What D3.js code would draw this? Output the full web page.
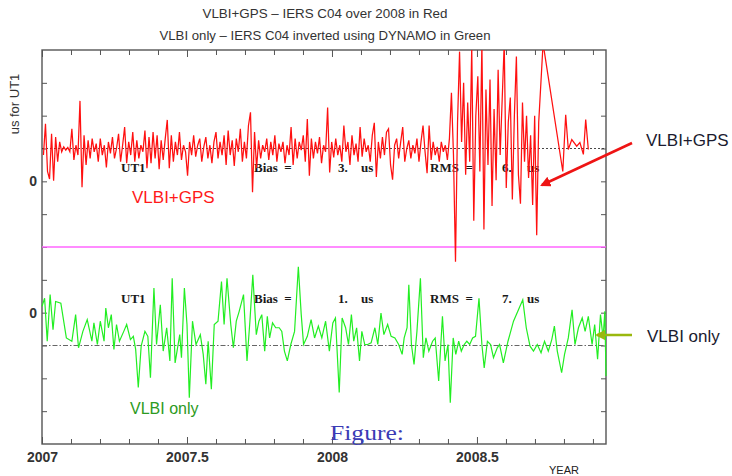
<!DOCTYPE html>
<html>
<head>
<meta charset="utf-8">
<script src="https://d3js.org/d3.v7.min.js"></script>
<style>
  html, body { margin: 0; padding: 0; background: #fff; }
  svg { display: block; }
  .axis text { font-family: "Liberation Sans", Arial, sans-serif; fill: #222; }
  .axis line { stroke: #555; }
</style>
</head>
<body>
<svg id="chart" width="732" height="476"></svg>
<script>
// ---- data ----
// VLBI+GPS - C04, sampled every RED_DT years from RED_T0 (us)
const RED_T0 = 2007.005, RED_DT = 0.007;
const redValues = [
  8, 17.5, 3, 0.7, 14.5, 0.2, 13.5, 6, 12, 9,
  10.5, 9.5, 10.3, 9, 16, 6.5, 11, 8, 24.5, -1.8,
  14, 5, 12.5, 7, 13, 9, 11.5, 6, 13, 8,
  11, 4.2, 12, 8.5, 13.5, 7, 10, 14.5, 6, 11,
  16.5, 5.5, 12, 8, 15, 6, 12.5, 7, 11, 9,
  15.5, 4, 13.5, 5.5, 15, 7, 14, 3.7, 12.5, 6.5,
  13, 18.7, 4, 14, 6, 12, 8, 15, 6.5, 11,
  9, 1.7, 12, 8, 14, 7.5, 11, 13, 6, 10.5,
  13.5, 7, 11, 5.5, 12, 15, 7, 12, 8, 14,
  5, 15.5, 8, 12.5, 4.7, 13, 9, 16, 6, 12,
  7, 17, 21, -3.3, 15, 4, 12.5, 7, 11, 9,
  13, 6.5, 12, 8, 14, 6, 11.5, 9, 12, 5.5,
  11, 8, 16.5, 5, 13, 7, 12, 9.5, 14, 6,
  19, 1.7, 13, 7, 12, 8.5, 13.5, 5.5, 11, 9,
  22.5, 2.7, 12, 7.3, 13, 8, 11, 6, 17, 9,
  12, 5, 14, 8, 11.5, 6, 16.5, 7.5, 13, 9,
  11, 6, 14, 17.8, 1.3, 12, 7, 13.5, 8, 15,
  16, 5, 0.5, 11, 13, 7, 12, 16.5, 6, 10,
  12.5, 7, 11, 8.5, 13, 6, 12, 17, 9, 2.5,
  17, 6.5, 12, 8, 10.5, 6, 12, 9, 11, 6.5,
  13, 27, 8, -24.5, 18, 39.5, 12, 30, 2, 24,
  6, 41, -12, 20, 32, 3, 42, -14.7, 28, 5,
  31, -7.5, 22, 0.3, 34, 8, 25, 42, -2, 18,
  25.5, -5.5, 20, 38, 2, -6.8, 24, 6, 20, 1,
  14, -7.2, 20, -16.4, 18
];
// sparse tail after the dense part: [year, us]
const redTail = [
  [2008.728, 42], [2008.796, 3.0], [2008.806, 20.3], [2008.815, 9.7],
  [2008.827, 12.7], [2008.844, 10.7], [2008.855, 11.8], [2008.867, 8.2],
  [2008.875, 18.8], [2008.884, 9.7]
];

// VLBI only - C04 via DYNAMO (us)
const greenYears = [
  2007.000, 2007.009, 2007.018, 2007.028, 2007.038, 2007.047, 2007.065, 2007.084, 2007.103, 2007.116,
  2007.126, 2007.141, 2007.156, 2007.172, 2007.179, 2007.191, 2007.201, 2007.214, 2007.220, 2007.229,
  2007.239, 2007.248, 2007.257, 2007.267, 2007.282, 2007.292, 2007.305, 2007.315, 2007.323, 2007.332,
  2007.342, 2007.355, 2007.365, 2007.374, 2007.386, 2007.395, 2007.408, 2007.418, 2007.430, 2007.441,
  2007.449, 2007.459, 2007.475, 2007.481, 2007.491, 2007.500, 2007.508, 2007.519, 2007.531, 2007.546,
  2007.556, 2007.565, 2007.573, 2007.584, 2007.594, 2007.607, 2007.619, 2007.628, 2007.638, 2007.651,
  2007.660, 2007.670, 2007.680, 2007.695, 2007.707, 2007.717, 2007.727, 2007.739, 2007.748, 2007.758,
  2007.768, 2007.777, 2007.785, 2007.795, 2007.806, 2007.818, 2007.827, 2007.836, 2007.846, 2007.858,
  2007.871, 2007.884, 2007.894, 2007.902, 2007.915, 2007.928, 2007.940, 2007.953, 2007.965, 2007.978,
  2007.991, 2008.003, 2008.012, 2008.025, 2008.035, 2008.047, 2008.057, 2008.067, 2008.075, 2008.085,
  2008.095, 2008.103, 2008.113, 2008.123, 2008.135, 2008.148, 2008.158, 2008.169, 2008.179, 2008.192,
  2008.204, 2008.217, 2008.230, 2008.242, 2008.249, 2008.259, 2008.265, 2008.274, 2008.283, 2008.293,
  2008.305, 2008.315, 2008.324, 2008.334, 2008.347, 2008.356, 2008.368, 2008.381, 2008.390, 2008.400,
  2008.408, 2008.418, 2008.427, 2008.437, 2008.446, 2008.456, 2008.465, 2008.475, 2008.485, 2008.495,
  2008.507, 2008.517, 2008.525, 2008.536, 2008.547, 2008.557, 2008.570, 2008.578, 2008.591, 2008.607,
  2008.626, 2008.658, 2008.670, 2008.683, 2008.695, 2008.708, 2008.721, 2008.733, 2008.746, 2008.758,
  2008.767, 2008.777, 2008.792, 2008.802, 2008.815, 2008.828, 2008.838, 2008.850, 2008.863, 2008.873,
  2008.884, 2008.897, 2008.906, 2008.916, 2008.926, 2008.935, 2008.941, 2008.945
];
const greenValues = [
  1.9, 4.4, -8.7, 5.5, -5.2, 3.4, 2.9, -7.7, -8.7, -0.6,
  -10.7, -5.7, -2.1, -8.7, -3.1, -9.7, -2.6, -8.7, 1.4, -4.6,
  -0.6, -11.2, -3.6, -8.7, -5.7, -3.6, -8.2, -7.2, -11.2, -22.8,
  -10.2, -5.7, -7.2, -19.8, 7.5, -9.7, 2.4, -11.7, -4.6, -14.7,
  10.5, -15.3, -6.7, -13.7, 7.5, -3.6, -25.9, -2.6, -9.7, -6.7,
  -12.7, -21.8, -8.7, -23.3, -3.6, -2.6, 9.5, -3.6, 10.5, -3.6,
  -10.7, -2.6, 0.4, 5.5, -14.7, -2.6, 11.5, -6.7, -2.6, -0.6,
  -11.7, -1.1, -7.7, -3.1, -4.6, -4.6, -5.7, -11.7, -14.7, -9.7,
  -5.7, 14.0, -0.6, -9.7, -7.2, -2.1, -7.7, -4.1, -7.7, -2.6,
  -11.7, -3.1, -1.6, -24.3, -1.6, -4.6, -9.7, -0.6, -8.7, -4.6,
  -14.7, -5.7, -9.7, -9.7, -9.2, -4.6, -9.7, -0.1, -6.7, -3.6,
  -7.2, -7.7, -9.7, -12.7, -7.7, -4.6, 8.5, -9.7, -15.8, -5.7,
  10.5, -13.7, -7.7, -11.7, -8.7, -7.7, -20.8, -1.1, -14.7, -9.7,
  -27.4, -7.7, -12.7, -8.7, -11.7, -9.7, -8.7, -9.7, -7.7, -7.2,
  4.4, -9.7, -16.8, -8.7, -9.7, -13.7, -10.7, -9.7, -15.3, -8.7,
  -2.6, 3.9, -4.6, -10.2, -11.7, -9.7, -12.2, -8.7, -11.7, -8.2,
  -4.1, -11.7, -18.3, -12.7, -7.7, 0.9, -9.7, -4.6, -1.6, -5.7,
  -1.1, -9.7, -3.6, -14.2, -0.6, -7.7, 0.4, -19.3
];

const redMean = 10, greenMean = -10;
const titles = [
  'VLBI+GPS \u2013 IERS C04 over 2008 in Red',
  'VLBI only \u2013 IERS C04 inverted using DYNAMO in Green'
];
const stats = [
  { name: 'UT1', bias: '3.', rms: '6.' },
  { name: 'UT1', bias: '1.', rms: '7.' }
];
const xLabelYears = [2007, 2007.5, 2008, 2008.5];

// ---- scales ----
const pLeft = 42, pRight = 606, pTop = 50, pMid = 247, pBottom = 444;
const x = d3.scaleLinear().domain([2007, 2008.945]).range([pLeft, pRight]);
const yUp = d3.scaleLinear().domain([-20, 40]).range([pMid, pTop]);
const yLo = d3.scaleLinear().domain([-40, 20]).range([pBottom, pMid]);

const svg = d3.select('#chart');

// titles
svg.selectAll('.title')
  .data(titles)
  .enter()
  .append('text')
  .classed('title', true)
  .attr('x', 325)
  .attr('y', (d, i) => 18 + i * 22)
  .attr('text-anchor', 'middle')
  .attr('textLength', (d, i) => i === 0 ? 245 : 331)
  .attr('lengthAdjust', 'spacingAndGlyphs')
  .style('font-family', '"Liberation Sans", Arial, sans-serif')
  .style('font-size', '13px')
  .style('fill', '#333')
  .text(d => d);

// y title
svg.append('text')
  .attr('transform', 'translate(19,104) rotate(-90)')
  .attr('text-anchor', 'middle')
  .style('font-family', '"Liberation Sans", Arial, sans-serif')
  .style('font-size', '13px')
  .style('fill', '#333')
  .text('us for UT1');

// axes (ticks point inward)
const xTicks = d3.range(0, 20).map(i => 2007 + i / 10);
const isMajor = d => Math.abs(d * 2 - Math.round(d * 2)) < 1e-6;
const xFmt = d => xLabelYears.some(v => Math.abs(v - d) < 1e-6) ? String(+d.toFixed(1)) : '';

const gxb = svg.append('g').attr('class', 'axis')
  .attr('transform', `translate(0,${pBottom})`)
  .call(d3.axisBottom(x).tickValues(xTicks).tickSizeInner(-5).tickSizeOuter(0).tickPadding(8).tickFormat(xFmt));
gxb.selectAll('.tick line').attr('y2', d => isMajor(d) ? -7 : -5);
gxb.selectAll('text').style('font-size', '14px').style('font-weight', 'bold').style('fill', '#333');

const gxt = svg.append('g').attr('class', 'axis')
  .attr('transform', `translate(0,${pTop})`)
  .call(d3.axisTop(x).tickValues(xTicks).tickSizeInner(-5).tickSizeOuter(0).tickFormat(''));
gxt.selectAll('.tick line').attr('y2', d => isMajor(d) ? 7 : 5);

const upTicks = [-10, 0, 10, 20, 30];
const loTicks = [-30, -20, -10, 0, 10, 20];
[[yUp, upTicks], [yLo, loTicks]].forEach(([sc, tv]) => {
  const gl = svg.append('g').attr('class', 'axis')
    .attr('transform', `translate(${pLeft},0)`)
    .call(d3.axisLeft(sc).tickValues(tv).tickSizeInner(-5).tickSizeOuter(0).tickPadding(5)
      .tickFormat(d => d === 0 ? '0' : ''));
  gl.selectAll('text').style('font-size', '14px').style('font-weight', 'bold').style('fill', '#333');
  svg.append('g').attr('class', 'axis')
    .attr('transform', `translate(${pRight},0)`)
    .call(d3.axisRight(sc).tickValues(tv).tickSizeInner(-5).tickSizeOuter(0).tickFormat(''));
});
svg.selectAll('.axis .domain').remove();

// frame
svg.append('rect')
  .attr('x', pLeft).attr('y', pTop)
  .attr('width', pRight - pLeft).attr('height', pBottom - pTop)
  .style('fill', 'none').style('stroke', '#555').style('stroke-width', 1.4);

svg.append('text')
  .attr('x', 564).attr('y', 474)
  .attr('text-anchor', 'middle')
  .style('font-family', '"Liberation Sans", Arial, sans-serif')
  .style('font-size', '11px').style('fill', '#222')
  .text('YEAR');

// reference lines
svg.append('line')
  .attr('x1', pLeft).attr('x2', pRight)
  .attr('y1', yUp(redMean)).attr('y2', yUp(redMean))
  .style('stroke', '#333').style('stroke-width', 0.9).style('stroke-dasharray', '2,2');
svg.append('line')
  .attr('x1', pLeft).attr('x2', pRight)
  .attr('y1', yLo(greenMean)).attr('y2', yLo(greenMean))
  .style('stroke', '#666').style('stroke-width', 1.2).style('stroke-dasharray', '5,2,1.5,2');
svg.append('line')
  .attr('x1', pLeft).attr('x2', pRight)
  .attr('y1', pMid).attr('y2', pMid)
  .style('stroke', '#ff66ff').style('stroke-width', 1.6);

// stats text
const statFont = sel => sel
  .style('font-family', '"Liberation Serif", "Times New Roman", serif')
  .style('font-weight', 'bold').style('font-size', '13px').style('fill', '#1a1a1a');
stats.forEach((s, i) => {
  const yy = i === 0 ? 172 : 303;
  const g = svg.append('g').call(statFont);
  g.append('text').attr('x', 121).attr('y', yy).text(s.name);
  g.append('text').attr('x', 254).attr('y', yy).attr('xml:space', 'preserve').text('Bias  =');
  g.append('text').attr('x', 338).attr('y', yy).text(s.bias);
  g.append('text').attr('x', 361).attr('y', yy).text('us');
  g.append('text').attr('x', 430).attr('y', yy).attr('xml:space', 'preserve').text('RMS  =');
  g.append('text').attr('x', 502).attr('y', yy).text(s.rms);
  g.append('text').attr('x', 527).attr('y', yy).text('us');
});

// series
svg.append('clipPath').attr('id', 'clipRed')
  .append('rect').attr('x', pLeft).attr('y', pTop).attr('width', pRight - pLeft).attr('height', 230);

const redData = redValues.map((v, i) => [RED_T0 + i * RED_DT, v]).concat(redTail);
const greenData = d3.zip(greenYears, greenValues);

svg.append('path')
  .datum(greenData)
  .attr('d', d3.line().x(d => x(d[0])).y(d => yLo(d[1])))
  .style('fill', 'none').style('stroke', '#22ee22').style('stroke-width', 1.2);

svg.append('path')
  .datum(redData)
  .attr('clip-path', 'url(#clipRed)')
  .attr('d', d3.line().x(d => x(d[0])).y(d => yUp(d[1])))
  .style('fill', 'none').style('stroke', '#ff1010').style('stroke-width', 1.25);

// labels inside the plot
svg.append('text')
  .attr('x', 132).attr('y', 203)
  .style('font-family', '"Liberation Sans", Arial, sans-serif')
  .style('font-size', '17px').style('fill', '#ff1a1a')
  .text('VLBI+GPS');
svg.append('text')
  .attr('x', 130).attr('y', 414)
  .style('font-family', '"Liberation Sans", Arial, sans-serif')
  .style('font-size', '16px').style('fill', '#2c9a22')
  .text('VLBI only');

svg.append('text')
  .attr('x', 330).attr('y', 440)
  .attr('textLength', 74).attr('lengthAdjust', 'spacingAndGlyphs')
  .style('font-family', '"Liberation Serif", "Times New Roman", serif')
  .style('font-size', '22px').style('fill', '#3b3bb5')
  .text('Figure:');

// annotations with arrows
const defs = svg.append('defs');
[['headRed', '#ee1414'], ['headGreen', '#9ab80e']].forEach(([id, c]) => {
  defs.append('marker')
    .attr('id', id).attr('viewBox', '0 0 10 10')
    .attr('refX', 8).attr('refY', 5)
    .attr('markerWidth', 4).attr('markerHeight', 4)
    .attr('orient', 'auto')
    .append('path').attr('d', 'M0,0L10,5L0,10Z').style('fill', c);
});
svg.append('line')
  .attr('x1', 632).attr('y1', 143).attr('x2', 542).attr('y2', 185)
  .attr('marker-end', 'url(#headRed)')
  .style('stroke', '#ee1414').style('stroke-width', 2.6);
svg.append('line')
  .attr('x1', 632).attr('y1', 335).attr('x2', 597).attr('y2', 335)
  .attr('marker-end', 'url(#headGreen)')
  .style('stroke', '#9ab80e').style('stroke-width', 2.6);

svg.append('text')
  .attr('x', 646).attr('y', 146)
  .style('font-family', '"Liberation Sans", Arial, sans-serif')
  .style('font-size', '17px').style('fill', '#1b1b2f')
  .text('VLBI+GPS');
svg.append('text')
  .attr('x', 647).attr('y', 342)
  .style('font-family', '"Liberation Sans", Arial, sans-serif')
  .style('font-size', '17px').style('fill', '#1b1b2f')
  .text('VLBI only');
</script>
</body>
</html>
